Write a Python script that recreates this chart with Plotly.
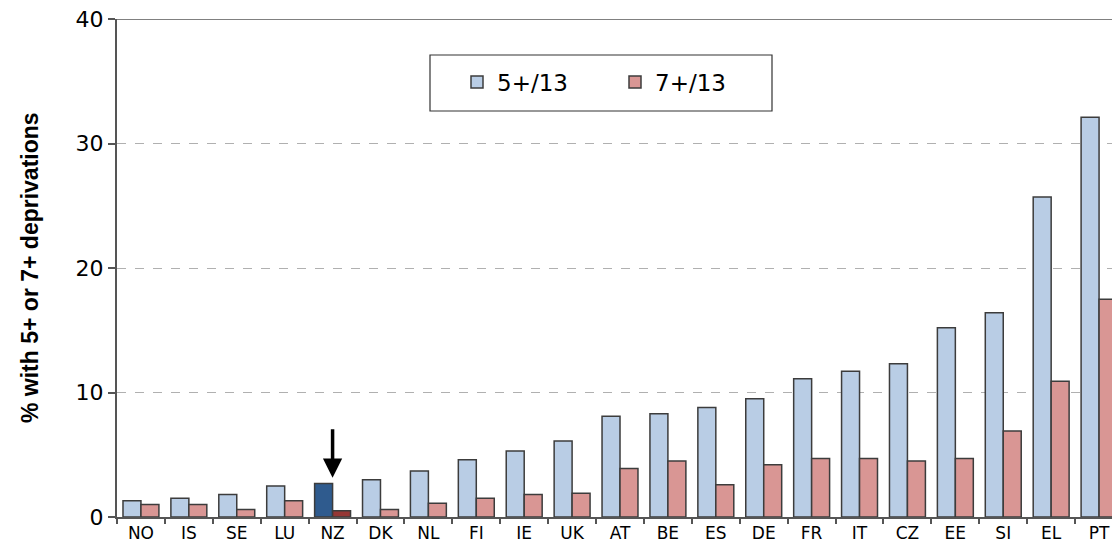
import plotly.graph_objects as go

countries = ['NO', 'IS', 'SE', 'LU', 'NZ', 'DK', 'NL', 'FI', 'IE', 'UK', 'AT',
             'BE', 'ES', 'DE', 'FR', 'IT', 'CZ', 'EE', 'SI', 'EL', 'PT']
dep5 = [1.3, 1.5, 1.8, 2.5, 2.7, 3.0, 3.7, 4.6, 5.3, 6.1, 8.1,
        8.3, 8.8, 9.5, 11.1, 11.7, 12.3, 15.2, 16.4, 25.7, 32.1]
dep7 = [1.0, 1.0, 0.6, 1.3, 0.5, 0.6, 1.1, 1.5, 1.8, 1.9, 3.9,
        4.5, 2.6, 4.2, 4.7, 4.7, 4.5, 4.7, 6.9, 10.9, 17.5]
y_ticks = [0, 10, 20, 30, 40]
highlight = 'NZ'

blue, blue_hl = '#b9cde5', '#2f5b8e'
red, red_hl = '#d99694', '#953735'
outline = '#3c3c3c'
font = 'DejaVu Sans, Arial, sans-serif'
title_font = 'Liberation Sans, Arial, sans-serif'

fig = go.Figure()
fig.add_trace(go.Bar(
    x=countries, y=dep5, name='5+/13',
    marker=dict(color=[blue_hl if c == highlight else blue for c in countries],
                line=dict(color=outline, width=1.5))
))
fig.add_trace(go.Bar(
    x=countries, y=dep7, name='7+/13',
    marker=dict(color=[red_hl if c == highlight else red for c in countries],
                line=dict(color=outline, width=1.5))
))

# arrow pointing at New Zealand
fig.add_annotation(
    x=highlight, y=dep5[countries.index(highlight)] + 0.45,
    ax=0, ay=-50, text='', showarrow=True,
    arrowhead=2, arrowsize=1.1, arrowwidth=3.5, arrowcolor='black'
)

# axis title
fig.add_annotation(
    xref='paper', yref='paper', x=(30 - 117) / 995, y=0.5,
    xanchor='center', yanchor='middle',
    text='<b>% with 5+ or 7+ deprivations</b>', textangle=-90,
    showarrow=False, font=dict(size=23, color='black', family=title_font)
)

# top border line and legend box
fig.add_shape(type='line', xref='paper', yref='y', x0=0, x1=1, y0=40, y1=40,
              line=dict(color='#808080', width=2))
fig.add_shape(type='rect', xref='paper', yref='paper',
              x0=(430 - 117) / 995, x1=(772 - 117) / 995,
              y0=(517 - 111) / 498, y1=(517 - 55) / 498,
              line=dict(color='#333333', width=1.2), fillcolor='white', layer='below')

fig.update_layout(
    width=1112, height=543,
    margin=dict(l=117, r=0, t=19, b=26, autoexpand=False),
    paper_bgcolor='white', plot_bgcolor='white',
    font=dict(family=font, color='black'),
    barmode='group', bargap=0.25, bargroupgap=0,
    showlegend=True,
    legend=dict(
        orientation='h', x=(457 - 117) / 995, y=(517 - 82) / 498,
        xanchor='left', yanchor='middle',
        font=dict(size=23, family=font), bgcolor='rgba(0,0,0,0)',
        borderwidth=0, entrywidth=113, entrywidthmode='pixels'
    ),
    xaxis=dict(
        range=[-0.5, 20.27], showline=True, linecolor='#555555', linewidth=2,
        ticks='outside', tickson='boundaries', ticklen=5, tickcolor='#555555',
        tickwidth=1.5, tickfont=dict(size=17), showgrid=False, automargin=False
    ),
    yaxis=dict(
        range=[0, 40], tickvals=y_ticks, showline=True, linecolor='#555555',
        linewidth=2, ticks='outside', ticklen=7, tickcolor='#555555', tickwidth=1.5,
        tickfont=dict(size=22), showgrid=True, gridcolor='#b0b0b0', griddash='dash',
        gridwidth=1, zeroline=False, automargin=False
    ),
)

fig.write_html('out.html', config={'displayModeBar': False},
               post_script="document.body.style.margin='0';")
